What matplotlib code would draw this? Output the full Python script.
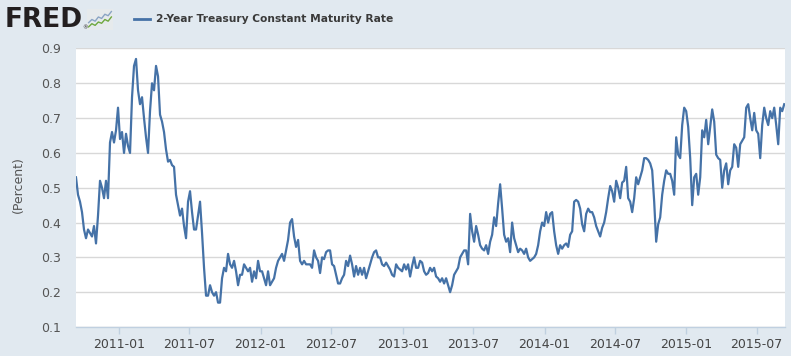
import pandas as pd
import matplotlib
matplotlib.use("Agg")
import matplotlib.pyplot as plt
import matplotlib.dates as mdates

# 2-year treasury rate at even steps from mid-Sep 2010 to mid-Sep 2015
first_day = "2010-09-13"
last_day = "2015-09-10"
rate = [
    0.53, 0.48, 0.46, 0.43, 0.38, 0.355, 0.38, 0.37, 0.36, 0.39,
    0.34, 0.42, 0.52, 0.50, 0.47, 0.52, 0.47, 0.63, 0.66, 0.63,
    0.665, 0.73, 0.64, 0.66, 0.60, 0.655, 0.62, 0.60, 0.76, 0.85,
    0.87, 0.78, 0.74, 0.76, 0.70, 0.645, 0.60, 0.72, 0.80, 0.78,
    0.85, 0.82, 0.71, 0.69, 0.66, 0.61, 0.575, 0.58, 0.565, 0.56,
    0.48, 0.45, 0.42, 0.44, 0.39, 0.355, 0.46, 0.49, 0.43, 0.38,
    0.38, 0.42, 0.46, 0.37, 0.27, 0.19, 0.19, 0.22, 0.20, 0.19,
    0.20, 0.17, 0.17, 0.24, 0.27, 0.26, 0.31, 0.28, 0.27, 0.29,
    0.26, 0.22, 0.25, 0.25, 0.28, 0.27, 0.26, 0.27, 0.23, 0.26,
    0.24, 0.29, 0.26, 0.26, 0.24, 0.22, 0.26, 0.22, 0.23, 0.24,
    0.27, 0.29, 0.30, 0.31, 0.29, 0.32, 0.35, 0.40, 0.41, 0.36,
    0.33, 0.35, 0.29, 0.28, 0.29, 0.28, 0.28, 0.28, 0.27, 0.32,
    0.30, 0.29, 0.255, 0.30, 0.295, 0.315, 0.32, 0.32, 0.28, 0.275,
    0.25, 0.225, 0.225, 0.24, 0.25, 0.29, 0.275, 0.305, 0.28, 0.245,
    0.275, 0.25, 0.27, 0.25, 0.27, 0.24, 0.26, 0.28, 0.30, 0.315,
    0.32, 0.30, 0.30, 0.28, 0.275, 0.285, 0.275, 0.265, 0.25, 0.245,
    0.28, 0.27, 0.265, 0.26, 0.28, 0.265, 0.28, 0.245, 0.275, 0.30,
    0.27, 0.27, 0.29, 0.285, 0.26, 0.25, 0.255, 0.27, 0.26, 0.27,
    0.245, 0.24, 0.23, 0.24, 0.225, 0.24, 0.22, 0.20, 0.22, 0.25,
    0.26, 0.27, 0.30, 0.31, 0.32, 0.32, 0.28, 0.425, 0.375, 0.345,
    0.39, 0.365, 0.335, 0.325, 0.32, 0.335, 0.31, 0.345, 0.365, 0.415,
    0.39, 0.455, 0.51, 0.44, 0.365, 0.345, 0.355, 0.315, 0.40, 0.355,
    0.335, 0.315, 0.325, 0.32, 0.31, 0.325, 0.30, 0.29, 0.295, 0.30,
    0.31, 0.335, 0.375, 0.40, 0.39, 0.43, 0.40, 0.425, 0.43, 0.375,
    0.335, 0.31, 0.335, 0.325, 0.335, 0.34, 0.33, 0.365, 0.375, 0.46,
    0.465, 0.46, 0.44, 0.395, 0.375, 0.425, 0.44, 0.43, 0.43, 0.415,
    0.39, 0.375, 0.36, 0.385, 0.40, 0.43, 0.47, 0.505, 0.49, 0.46,
    0.52, 0.50, 0.47, 0.515, 0.52, 0.56, 0.47, 0.46, 0.43, 0.47,
    0.53, 0.51, 0.53, 0.55, 0.585, 0.585, 0.58, 0.57, 0.55, 0.46,
    0.345, 0.395, 0.415, 0.48, 0.52, 0.55, 0.54, 0.54, 0.52, 0.48,
    0.645, 0.595, 0.585, 0.68, 0.73, 0.72, 0.675, 0.585, 0.45, 0.53,
    0.54, 0.48, 0.53, 0.665, 0.645, 0.695, 0.625, 0.675, 0.725, 0.69,
    0.595, 0.585, 0.58, 0.50, 0.55, 0.57, 0.51, 0.55, 0.56, 0.625,
    0.615, 0.56, 0.625, 0.635, 0.645, 0.73, 0.74, 0.70, 0.665, 0.715,
    0.665, 0.655, 0.585, 0.68, 0.73, 0.70, 0.68, 0.72, 0.70, 0.73,
    0.68, 0.625, 0.73, 0.72, 0.74,
]
yticks = [0.1, 0.2, 0.3, 0.4, 0.5, 0.6, 0.7, 0.8, 0.9]
series_name = "2-Year Treasury Constant Maturity Rate"

# little FRED icon lines
icon_x = [0, 1, 2, 3, 4, 5, 6, 7]
icon_blue = [0.35, 0.5, 0.42, 0.62, 0.55, 0.75, 0.68, 0.88]
icon_green = [0.15, 0.3, 0.22, 0.38, 0.32, 0.5, 0.42, 0.62]

dates = pd.date_range(first_day, last_day, periods=len(rate))

bg = "#e1e9f0"
W, H = 791, 356
fig = plt.figure(figsize=(W / 100, H / 100), dpi=100, facecolor=bg)
ax = fig.add_axes([76 / W, 1 - 327 / H, (785 - 76) / W, (327 - 48.5) / H])
ax.set_facecolor("white")

ax.plot(dates, rate, color="#4572a7", lw=1.6, solid_joinstyle="round")

ax.set_ylim(0.1, 0.9)
ax.set_yticks(yticks)
ax.set_yticklabels(["%.1f" % v for v in yticks])
ax.set_xlim(pd.Timestamp("2010-09-13"), pd.Timestamp("2015-09-12"))
ax.xaxis.set_major_locator(mdates.MonthLocator(bymonth=[1, 7]))
ax.xaxis.set_major_formatter(mdates.DateFormatter("%Y-%m"))

ax.grid(axis="y", color="#d8d8d8", lw=1)
ax.set_axisbelow(True)
for s in ["top", "right", "left"]:
    ax.spines[s].set_visible(False)
ax.spines["bottom"].set_color("#c0d0e0")
ax.spines["bottom"].set_linewidth(1)
ax.tick_params(axis="y", length=0, pad=11, labelsize=9, labelcolor="#555555")
ax.tick_params(axis="x", length=5, width=1, color="#c0d0e0", pad=3,
               labelsize=9, labelcolor="#444444")

fig.text(18 / W, 1 - 185 / H, "(Percent)", rotation=90, ha="center", va="center",
         fontsize=9, color="#555555")

# header: FRED logo + legend
fig.text(5 / W, 1 - 20 / H, "FRED", fontsize=19, fontweight="bold",
         color="#231f20", ha="left", va="center")
fig.text(82 / W, 1 - 28 / H, "®", fontsize=4, color="#231f20", ha="left", va="center")
icon = fig.add_axes([87 / W, 1 - 30 / H, 26 / W, 21 / H])
icon.set_facecolor("#e6eaec")
icon.plot(icon_x, icon_blue, color="#8aa4c4", lw=1)
icon.plot(icon_x, icon_green, color="#6fa83e", lw=1)
icon.set_xlim(-0.5, 7.5)
icon.set_ylim(0, 1)
icon.set_xticks([])
icon.set_yticks([])
for s in icon.spines.values():
    s.set_visible(False)

fig.lines.append(plt.Line2D([134 / W, 150 / W], [1 - 19 / H, 1 - 19 / H],
                            transform=fig.transFigure, color="#4572a7", lw=2))
fig.text(156 / W, 1 - 19 / H, series_name, fontsize=7.7, fontweight="bold",
         color="#3a3a3a", ha="left", va="center")

fig.savefig("out.png", dpi=100, facecolor=bg)
